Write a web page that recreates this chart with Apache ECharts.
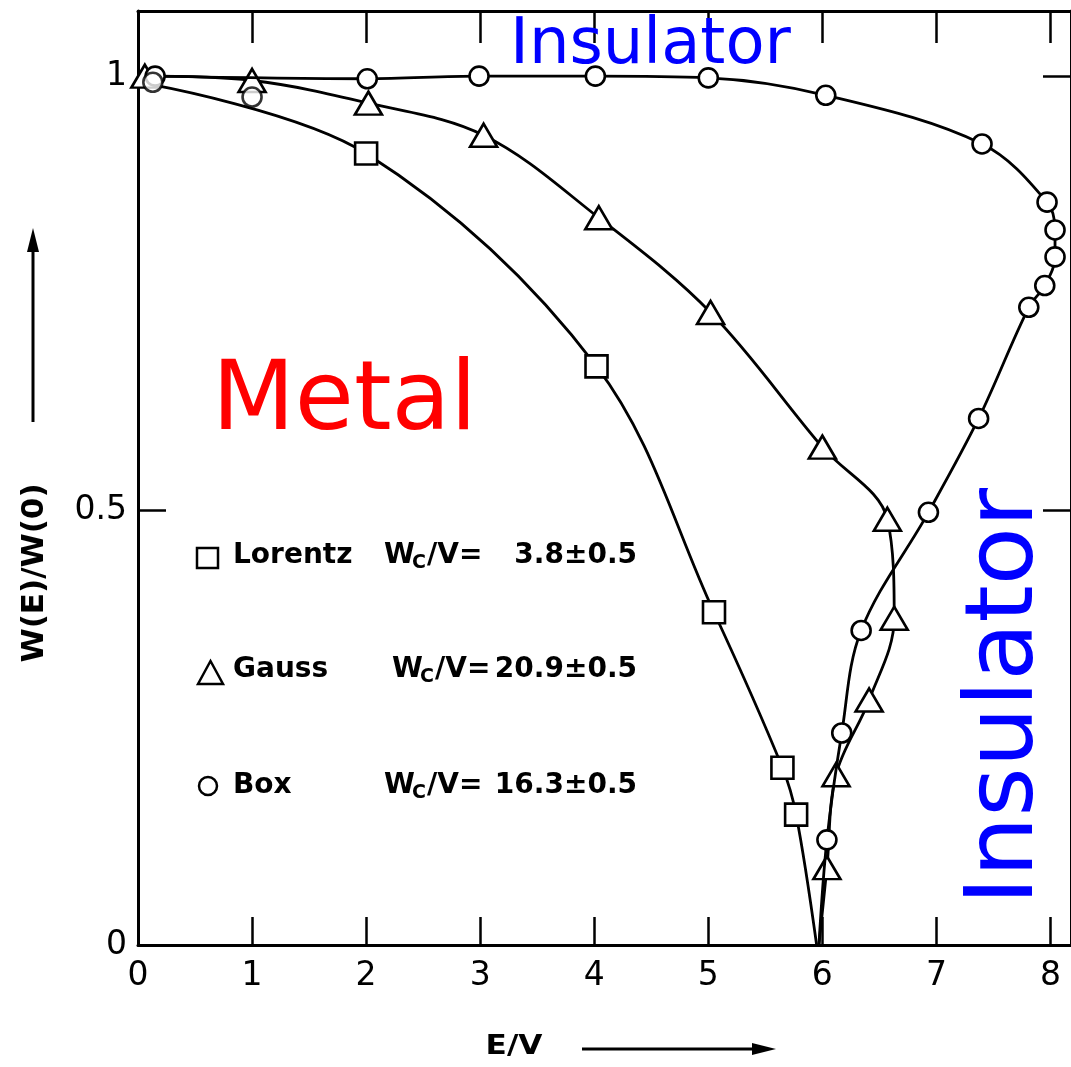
<!DOCTYPE html>
<html><head><meta charset="utf-8">
<script src="https://cdn.jsdelivr.net/npm/echarts@6/dist/echarts.min.js"></script>
<style>html,body{margin:0;padding:0;background:#fff}#c{width:1071px;height:1067px}</style>
</head><body><div id="c"></div>
<script>
// ---- data ----
const xTickLabels = ['0','1','2','3','4','5','6','7','8'];
const yTickLabels = ['0','0.5','1'];

// Lorentz (squares)
const lorentzE = [2.00, 4.02, 5.05, 5.65, 5.77];
const lorentzW = [0.911, 0.666, 0.383, 0.204, 0.150];
const lorentzStart = [0.13, 0.99];
const lorentzEnd = [5.95, 0];

// Gauss (triangles)
const gaussE = [0.06, 1.00, 2.02, 3.03, 4.04, 5.02, 6.00, 6.57, 6.63, 6.41, 6.12, 6.04];
const gaussW = [1.00, 0.995, 0.969, 0.932, 0.837, 0.728, 0.573, 0.490, 0.376, 0.282, 0.196, 0.089];
const gaussEnd = [5.97, 0];

// Box (circles)
const boxE = [0.15, 2.01, 2.99, 4.01, 5.00, 6.03, 7.40, 7.97, 8.04, 8.04, 7.95, 7.81, 7.37, 6.93, 6.34, 6.17, 6.04];
const boxW = [1.00, 0.997, 1.00, 1.00, 0.998, 0.978, 0.922, 0.855, 0.823, 0.792, 0.759, 0.734, 0.606, 0.498, 0.362, 0.244, 0.121];
const boxEnd = [5.97, 0];

// stray circle markers near the top-left
const extraE = [0.13, 1.00];
const extraW = [0.993, 0.976];

const legendNames = ['Lorentz', 'Gauss', 'Box'];
const legendValues = ['3.8\u00b10.5', '20.9\u00b10.5', '16.3\u00b10.5'];

// ---- build ----
const pts = (xs, ys) => xs.map((x, i) => [x, ys[i]]);
const unmarked = p => ({ value: p, symbol: 'none' });

const lorentzData = [unmarked(lorentzStart), ...pts(lorentzE, lorentzW), unmarked(lorentzEnd)];
const gaussData = [...pts(gaussE, gaussW), unmarked(gaussEnd)];
const boxData = [...pts(boxE, boxW), unmarked(boxEnd)];

const markerStyle = { color: '#fff', borderColor: '#000', borderWidth: 2.6 };
const lineStyle = { color: '#000', width: 2.8 };

const FONT = 'DejaVu Sans';
function txt(x, y, text, o) {
  o = o || {};
  return {
    type: 'text', x: x, y: y, rotation: o.rot || 0, scaleX: o.sx || 1, z: 100,
    style: {
      text: text, fill: o.color || '#000', fontSize: o.size || 28,
      fontFamily: o.family || FONT, fontWeight: o.weight || 'normal',
      align: o.align || 'left', verticalAlign: 'middle',
      textAlign: o.align || 'left', textVerticalAlign: 'middle'
    }
  };
}

const rowY = [556, 670, 786];
const wX = [384, 392, 384];
const elements = [];
// legend markers
elements.push({ type: 'rect', shape: { x: 197, y: 548, width: 21, height: 20 }, style: { fill: '#fff', stroke: '#000', lineWidth: 2.5 }, z: 100 });
elements.push({ type: 'polygon', shape: { points: [[198, 684], [210.5, 661], [223, 684]] }, style: { fill: '#fff', stroke: '#000', lineWidth: 2.5 }, z: 100 });
elements.push({ type: 'circle', shape: { cx: 208, cy: 786, r: 9 }, style: { fill: '#fff', stroke: '#000', lineWidth: 2.5 }, z: 100 });
legendNames.forEach((n, i) => {
  elements.push(txt(233, rowY[i], n, { weight: 'bold', size: 28 }));
  elements.push(txt(wX[i], rowY[i], 'W', { weight: 'bold', size: 28 }));
  elements.push(txt(wX[i] + 28, rowY[i] + 7, 'C', { weight: 'bold', size: 19 }));
  elements.push(txt(wX[i] + 43, rowY[i], '/V=', { weight: 'bold', size: 28 }));
  elements.push(txt(637, rowY[i], legendValues[i], { weight: 'bold', size: 28, align: 'right' }));
});
// axis titles and arrows
elements.push(txt(35, 573, 'W(E)/W(0)', { weight: 'bold', size: 31, rot: Math.PI / 2, align: 'center' }));
elements.push({ type: 'line', shape: { x1: 33, y1: 422, x2: 33, y2: 245 }, style: { stroke: '#000', lineWidth: 3 }, z: 100 });
elements.push({ type: 'polygon', shape: { points: [[33, 228], [27, 252], [39, 252]] }, style: { fill: '#000' }, z: 100 });
elements.push(txt(514, 1047, 'E/V', { weight: 'bold', size: 26, align: 'center', sx: 1.2 }));
elements.push({ type: 'line', shape: { x1: 582, y1: 1049, x2: 760, y2: 1049 }, style: { stroke: '#000', lineWidth: 3 }, z: 100 });
elements.push({ type: 'polygon', shape: { points: [[776, 1049], [752, 1043], [752, 1055]] }, style: { fill: '#000' }, z: 100 });
// annotations
elements.push(txt(510, 46, 'Insulator', { color: '#0000ff', size: 64 }));
elements.push(txt(212, 404, 'Metal', { color: '#ff0000', size: 96 }));
elements.push(txt(1007, 905, 'Insulator', { color: '#0000ff', size: 95, rot: Math.PI / 2 }));

const axisCommon = {
  type: 'value', splitLine: { show: false },
  axisLine: { show: true, onZero: false, lineStyle: { color: '#000', width: 3 } },
  axisTick: { show: true, inside: true, length: 28, lineStyle: { color: '#000', width: 2.5 } }
};
const xLabelFmt = v => (Math.abs(v - Math.round(v)) < 1e-6 ? (xTickLabels[Math.round(v)] || '') : '');
const yLabelFmt = v => { const i = Math.round(v * 2); return Math.abs(v * 2 - i) < 1e-6 ? (yTickLabels[i] || '') : ''; };

const chart = echarts.init(document.getElementById('c'), null, { renderer: 'canvas' });
chart.setOption({
  animation: false,
  backgroundColor: '#fff',
  grid: { left: 138, right: -8, top: 11, bottom: 122, containLabel: false },
  xAxis: [
    Object.assign({}, axisCommon, { position: 'bottom', min: 0, max: 8.18, interval: 1,
      axisLabel: { show: true, showMaxLabel: false, margin: 15, color: '#000', fontSize: 33, fontFamily: FONT, formatter: xLabelFmt } }),
    Object.assign({}, axisCommon, { position: 'top', min: 0, max: 8.18, interval: 1,
      axisTick: { show: true, inside: true, length: 32, lineStyle: { color: '#000', width: 2.5 } },
      axisLabel: { show: false } })
  ],
  yAxis: [
    Object.assign({}, axisCommon, { position: 'left', min: 0, max: 1.075, interval: 0.5,
      axisLabel: { show: true, showMaxLabel: false, margin: 11, color: '#000', fontSize: 33, fontFamily: FONT, formatter: yLabelFmt } }),
    Object.assign({}, axisCommon, { position: 'right', min: 0, max: 1.075, interval: 0.5,
      axisLabel: { show: false } })
  ],
  series: [
    { name: 'Lorentz', type: 'line', data: lorentzData, smooth: 0.35, symbol: 'rect', symbolSize: 22,
      itemStyle: markerStyle, lineStyle: lineStyle, z: 3 },
    { name: 'Gauss', type: 'line', data: gaussData, smooth: 0.35, symbol: 'triangle', symbolSize: [27, 23],
      itemStyle: markerStyle, lineStyle: lineStyle, z: 4 },
    { name: 'Box', type: 'line', data: boxData, smooth: 0.35, symbol: 'circle', symbolSize: 19,
      itemStyle: markerStyle, lineStyle: lineStyle, z: 5 },
    { name: 'extra', type: 'scatter', data: pts(extraE, extraW), symbol: 'circle', symbolSize: 19,
      itemStyle: markerStyle, z: 6 }
  ],
  graphic: { elements: elements }
});
</script>
</body></html>
